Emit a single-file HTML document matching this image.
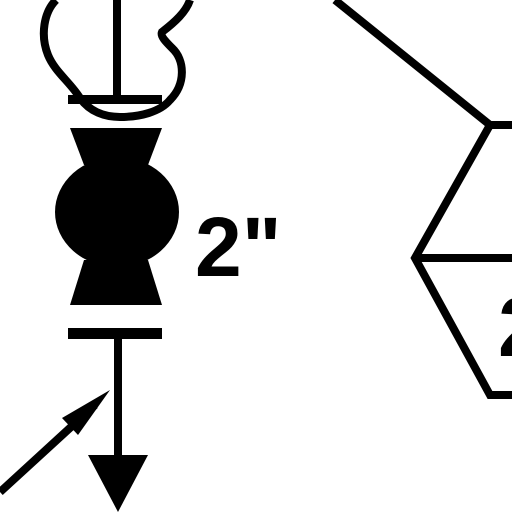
<!DOCTYPE html>
<html><head><meta charset="utf-8"><style>
html,body{margin:0;padding:0;background:#fff;width:512px;height:512px;overflow:hidden}
</style></head><body>
<svg width="512" height="512" viewBox="0 0 512 512">
<g stroke="#000" stroke-width="8" fill="none" stroke-linejoin="miter">
  <path d="M56,0 C44,12 40,35 48,55 C55,72 70,82 80,98 C90,112 105,117 120,117 C140,117 160,112 170,100 C186,84 185,60 172,48 C166,42 160,36 162,32 C175,22 186,12 190,0"/>
  <line x1="117" y1="0" x2="117" y2="96"/>
  <line x1="118" y1="338" x2="118" y2="460"/>
  <line x1="0" y1="492" x2="95" y2="405"/>
  <polyline points="335,0 490,125 512,125"/>
  <polyline points="490,125 415,258 490,395 512,395"/>
  <line x1="415" y1="258" x2="512" y2="258"/>
</g>
<rect x="68" y="95" width="94" height="9" fill="#000"/>
<rect x="68" y="328" width="94" height="11" fill="#000"/>
<polygon points="70,128 162,128 148,165 84,165" fill="#000"/>
<ellipse cx="117" cy="212" rx="62" ry="55" fill="#000"/>
<polygon points="84,260 148,260 162,305 70,305" fill="#000"/>
<polygon points="88,455 148,455 118,512" fill="#000"/>
<polygon points="110,390 62,418 78,435" fill="#000"/>
<text x="195" y="276" font-family="Liberation Sans, sans-serif" font-weight="bold" font-size="84" fill="#000">2"</text>
<text x="498" y="356" font-family="Liberation Sans, sans-serif" font-weight="bold" font-size="84" fill="#000">2</text>
</svg>
</body></html>
